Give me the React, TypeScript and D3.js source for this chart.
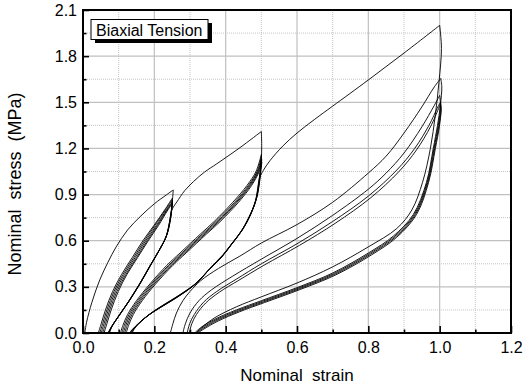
import React, { useEffect, useRef } from "react";
import * as d3 from "d3";

type Pt = [number, number];

// axis ticks
const xTicks = [0, 0.2, 0.4, 0.6, 0.8, 1.0, 1.2];
const xMinor = [0.1, 0.3, 0.5, 0.7, 0.9, 1.1];
const yTicks = [0, 0.3, 0.6, 0.9, 1.2, 1.5, 1.8, 2.1];
const yMinor = [0.15, 0.45, 0.75, 1.05, 1.35, 1.65, 1.95];

// cycle to 0.25 strain
const g1Virgin: Pt[] = [[0.005, 0], [0.01, 0.07], [0.025, 0.2], [0.047, 0.345], [0.07, 0.46], [0.093, 0.56], [0.125, 0.67], [0.16, 0.756], [0.2, 0.84], [0.235, 0.9], [0.253, 0.93]];
const g1Reload: Pt[][] = [
  [[0.043, 0], [0.051, 0.06], [0.063, 0.15], [0.083, 0.27], [0.108, 0.38], [0.138, 0.49], [0.168, 0.6], [0.199, 0.7], [0.229, 0.8], [0.25, 0.875]],
  [[0.047, 0], [0.055, 0.06], [0.067, 0.15], [0.087, 0.27], [0.112, 0.38], [0.142, 0.49], [0.172, 0.6], [0.202, 0.7], [0.231, 0.8], [0.25, 0.865]],
  [[0.051, 0], [0.059, 0.06], [0.071, 0.15], [0.091, 0.27], [0.116, 0.38], [0.146, 0.49], [0.176, 0.6], [0.206, 0.7], [0.234, 0.8], [0.251, 0.855]],
  [[0.055, 0], [0.063, 0.06], [0.075, 0.15], [0.095, 0.27], [0.12, 0.38], [0.15, 0.49], [0.18, 0.6], [0.209, 0.7], [0.236, 0.8], [0.251, 0.85]],
  [[0.059, 0], [0.067, 0.06], [0.079, 0.15], [0.099, 0.27], [0.123, 0.38], [0.153, 0.49], [0.183, 0.6], [0.212, 0.7], [0.238, 0.8], [0.252, 0.845]],
];
const g1Unload: Pt[][] = [
  [[0.253, 0.93], [0.251, 0.87], [0.248, 0.79], [0.241, 0.7], [0.232, 0.62], [0.212, 0.53], [0.187, 0.43], [0.16, 0.32], [0.131, 0.215], [0.1, 0.11], [0.08, 0.04], [0.072, 0]],
  [[0.25, 0.875], [0.249, 0.8], [0.243, 0.71], [0.234, 0.63], [0.214, 0.54], [0.189, 0.44], [0.162, 0.33], [0.133, 0.22], [0.102, 0.115], [0.082, 0.045], [0.074, 0]],
  [[0.25, 0.865], [0.248, 0.79], [0.242, 0.7], [0.233, 0.625], [0.213, 0.535], [0.188, 0.435], [0.161, 0.325], [0.132, 0.217], [0.101, 0.112], [0.081, 0.042], [0.073, 0]],
  [[0.251, 0.855], [0.247, 0.78], [0.241, 0.695], [0.232, 0.62], [0.211, 0.528], [0.186, 0.43], [0.159, 0.32], [0.13, 0.213], [0.1, 0.11], [0.08, 0.04], [0.071, 0]],
  [[0.251, 0.85], [0.246, 0.775], [0.24, 0.69], [0.231, 0.615], [0.21, 0.524], [0.185, 0.426], [0.158, 0.317], [0.129, 0.21], [0.099, 0.108], [0.079, 0.038], [0.07, 0]],
];

// cycle to 0.5 strain
const g2Virgin: Pt[] = [[0.249, 0.8], [0.255, 0.825], [0.263, 0.852], [0.285, 0.925], [0.31, 0.985], [0.34, 1.045], [0.375, 1.1], [0.44, 1.205], [0.5, 1.31]];
const g2Reload: Pt[][] = [
  [[0.105, 0], [0.112, 0.05], [0.125, 0.12], [0.15, 0.21], [0.188, 0.32], [0.235, 0.44], [0.272, 0.52], [0.33, 0.645], [0.37, 0.73], [0.42, 0.85], [0.46, 0.96], [0.485, 1.05], [0.5, 1.16]],
  [[0.109, 0], [0.116, 0.05], [0.129, 0.12], [0.154, 0.21], [0.192, 0.32], [0.24, 0.44], [0.277, 0.52], [0.335, 0.645], [0.375, 0.73], [0.425, 0.85], [0.464, 0.96], [0.488, 1.05], [0.5, 1.14]],
  [[0.113, 0], [0.12, 0.05], [0.133, 0.12], [0.158, 0.21], [0.196, 0.32], [0.244, 0.44], [0.281, 0.52], [0.339, 0.645], [0.379, 0.73], [0.429, 0.85], [0.467, 0.96], [0.49, 1.05], [0.501, 1.13]],
  [[0.117, 0], [0.124, 0.05], [0.137, 0.12], [0.162, 0.21], [0.2, 0.32], [0.248, 0.44], [0.285, 0.52], [0.343, 0.645], [0.383, 0.73], [0.432, 0.85], [0.47, 0.96], [0.492, 1.05], [0.501, 1.12]],
  [[0.121, 0], [0.128, 0.05], [0.141, 0.12], [0.166, 0.21], [0.204, 0.32], [0.252, 0.44], [0.289, 0.52], [0.347, 0.645], [0.387, 0.73], [0.436, 0.85], [0.473, 0.96], [0.494, 1.05], [0.502, 1.11]],
];
const g2Unload: Pt[][] = [
  [[0.5, 1.31], [0.501, 1.22], [0.5, 1.12], [0.496, 1.0], [0.487, 0.88], [0.47, 0.77], [0.449, 0.68], [0.42, 0.59], [0.393, 0.51], [0.355, 0.42], [0.32, 0.33], [0.272, 0.25], [0.22, 0.175], [0.188, 0.125], [0.16, 0.07], [0.142, 0.02], [0.138, 0]],
  [[0.5, 1.16], [0.499, 1.08], [0.495, 0.99], [0.486, 0.87], [0.468, 0.76], [0.447, 0.67], [0.418, 0.58], [0.391, 0.5], [0.353, 0.41], [0.318, 0.325], [0.27, 0.245], [0.218, 0.17], [0.186, 0.12], [0.158, 0.065], [0.14, 0.018], [0.136, 0]],
  [[0.5, 1.14], [0.498, 1.07], [0.494, 0.985], [0.485, 0.865], [0.466, 0.755], [0.445, 0.665], [0.416, 0.575], [0.389, 0.495], [0.351, 0.405], [0.316, 0.32], [0.268, 0.24], [0.216, 0.166], [0.184, 0.117], [0.156, 0.062], [0.138, 0.016], [0.134, 0]],
  [[0.501, 1.13], [0.498, 1.06], [0.493, 0.98], [0.484, 0.86], [0.465, 0.75], [0.443, 0.66], [0.414, 0.57], [0.387, 0.49], [0.349, 0.4], [0.314, 0.316], [0.266, 0.236], [0.214, 0.162], [0.182, 0.113], [0.154, 0.058], [0.136, 0.014], [0.132, 0]],
  [[0.501, 1.12], [0.497, 1.05], [0.492, 0.975], [0.483, 0.855], [0.464, 0.745], [0.442, 0.655], [0.412, 0.565], [0.385, 0.485], [0.347, 0.395], [0.312, 0.312], [0.264, 0.232], [0.212, 0.158], [0.18, 0.11], [0.152, 0.055], [0.134, 0.012], [0.13, 0]],
];

// cycle to 1.0 strain
const g3Virgin: Pt[] = [[0.495, 1.01], [0.505, 1.055], [0.524, 1.12], [0.56, 1.215], [0.6, 1.3], [0.65, 1.39], [0.7, 1.475], [0.8, 1.645], [0.9, 1.82], [1.0, 2.0]];
const g3Reload: Pt[][] = [
  [[0.245, 0], [0.252, 0.06], [0.262, 0.13], [0.28, 0.21], [0.3, 0.27], [0.33, 0.34], [0.38, 0.42], [0.44, 0.5], [0.5, 0.585], [0.6, 0.705], [0.7, 0.85], [0.8, 1.04], [0.85, 1.15], [0.9, 1.3], [0.95, 1.47], [0.985, 1.6], [1.003, 1.655]],
  [[0.28, 0], [0.287, 0.06], [0.3, 0.13], [0.325, 0.21], [0.36, 0.28], [0.42, 0.37], [0.5, 0.48], [0.6, 0.615], [0.7, 0.765], [0.8, 0.935], [0.85, 1.04], [0.9, 1.17], [0.95, 1.34], [0.985, 1.48], [1.0, 1.545]],
  [[0.292, 0], [0.299, 0.06], [0.312, 0.12], [0.338, 0.2], [0.375, 0.27], [0.43, 0.35], [0.5, 0.45], [0.6, 0.58], [0.7, 0.725], [0.8, 0.89], [0.88, 1.06], [0.93, 1.2], [0.97, 1.35], [0.995, 1.47], [1.002, 1.5]],
  [[0.298, 0], [0.305, 0.06], [0.318, 0.12], [0.344, 0.195], [0.382, 0.265], [0.437, 0.343], [0.507, 0.44], [0.607, 0.57], [0.707, 0.713], [0.807, 0.88], [0.886, 1.05], [0.935, 1.19], [0.974, 1.34], [0.997, 1.46], [1.002, 1.49]],
];
const g3Unload: Pt[][] = [
  [[1.0, 2.0], [1.005, 1.85], [0.998, 1.63], [0.988, 1.42], [0.974, 1.2], [0.952, 0.98], [0.922, 0.8], [0.88, 0.68], [0.8, 0.56], [0.7, 0.43], [0.6, 0.325], [0.5, 0.235], [0.43, 0.17], [0.37, 0.1], [0.335, 0.04], [0.318, 0]],
  [[1.003, 1.655], [1.006, 1.6], [1.002, 1.48], [0.994, 1.35], [0.982, 1.2], [0.963, 0.98], [0.926, 0.77], [0.87, 0.63], [0.8, 0.52], [0.7, 0.39], [0.6, 0.295], [0.5, 0.21], [0.43, 0.15], [0.37, 0.09], [0.33, 0.035], [0.313, 0]],
  [[1.0, 1.545], [1.003, 1.48], [0.996, 1.35], [0.984, 1.2], [0.965, 0.98], [0.929, 0.77], [0.873, 0.627], [0.803, 0.516], [0.703, 0.386], [0.603, 0.291], [0.503, 0.206], [0.433, 0.146], [0.373, 0.086], [0.333, 0.032], [0.316, 0]],
  [[1.002, 1.5], [1.004, 1.46], [0.998, 1.35], [0.986, 1.2], [0.967, 0.98], [0.932, 0.77], [0.876, 0.624], [0.806, 0.512], [0.706, 0.382], [0.606, 0.287], [0.506, 0.202], [0.436, 0.142], [0.376, 0.082], [0.336, 0.029], [0.319, 0]],
  [[1.002, 1.49], [1.004, 1.45], [0.999, 1.34], [0.988, 1.2], [0.969, 0.98], [0.935, 0.77], [0.879, 0.621], [0.809, 0.508], [0.709, 0.378], [0.609, 0.283], [0.509, 0.198], [0.439, 0.138], [0.379, 0.078], [0.339, 0.026], [0.322, 0]],
];

const allCurves: Pt[][] = [
  g1Virgin, ...g1Reload, ...g1Unload,
  g2Virgin, ...g2Reload, ...g2Unload,
  g3Virgin, ...g3Reload, ...g3Unload,
];

const font = "'Liberation Sans', Arial, sans-serif";

const App: React.FC = () => {
  const svgRef = useRef<SVGSVGElement | null>(null);

  useEffect(() => {
    if (svgRef.current) drawChart(svgRef.current);
  }, []);

  const drawChart = (el: SVGSVGElement) => {
    const width = 523;
    const height = 387;
    const left = 83, right = 511, top = 10, bottom = 333;

    d3.select(el).selectAll("*").remove();
    const svg = d3.select(el).attr("width", width).attr("height", height);

    const x = d3.scaleLinear().domain([0, 1.2]).range([left, right]);
    const y = d3.scaleLinear().domain([0, 2.1]).range([bottom, top]);

    // grid
    const grid = svg.append("g");
    grid.selectAll(".vmin").data(xMinor).enter().append("line")
      .attr("x1", (d) => x(d)).attr("x2", (d) => x(d)).attr("y1", top).attr("y2", bottom)
      .attr("stroke", "#c4c4c4").attr("stroke-width", 1).attr("stroke-dasharray", "1,1");
    grid.selectAll(".hmin").data(yMinor).enter().append("line")
      .attr("x1", left).attr("x2", right).attr("y1", (d) => y(d)).attr("y2", (d) => y(d))
      .attr("stroke", "#c4c4c4").attr("stroke-width", 1).attr("stroke-dasharray", "1,1");
    grid.selectAll(".vmaj").data(xTicks).enter().append("line")
      .attr("x1", (d) => x(d)).attr("x2", (d) => x(d)).attr("y1", top).attr("y2", bottom)
      .attr("stroke", "#c0c0c0").attr("stroke-width", 1.2);
    grid.selectAll(".hmaj").data(yTicks).enter().append("line")
      .attr("x1", left).attr("x2", right).attr("y1", (d) => y(d)).attr("y2", (d) => y(d))
      .attr("stroke", "#c0c0c0").attr("stroke-width", 1.2);

    // curves
    svg.append("clipPath").attr("id", "plotclip").append("rect")
      .attr("x", left).attr("y", top).attr("width", right - left).attr("height", bottom - top);
    const line = d3.line<Pt>()
      .x((d) => x(d[0]))
      .y((d) => y(d[1]))
      .curve(d3.curveCatmullRom.alpha(0.5));
    svg.append("g").attr("clip-path", "url(#plotclip)")
      .selectAll("path").data(allCurves).enter().append("path")
      .attr("d", (d) => line(d) as string)
      .attr("fill", "none").attr("stroke", "#000").attr("stroke-width", 0.9);

    // axes
    const xAxis = svg.append("g").attr("transform", `translate(0,${bottom})`)
      .call(d3.axisBottom(x).tickValues(xTicks).tickFormat(d3.format(".1f")).tickSize(-7).tickPadding(9));
    svg.append("g").attr("transform", `translate(0,${bottom})`)
      .call(d3.axisBottom(x).tickValues(xMinor).tickFormat(() => "").tickSize(-3.5));
    const yAxis = svg.append("g").attr("transform", `translate(${left},0)`)
      .call(d3.axisLeft(y).tickValues(yTicks).tickFormat(d3.format(".1f")).tickSize(-6).tickPadding(6));
    svg.append("g").attr("transform", `translate(${left},0)`)
      .call(d3.axisLeft(y).tickValues(yMinor).tickFormat(() => "").tickSize(-3.5));
    svg.selectAll(".domain").remove();
    svg.selectAll(".tick line").attr("stroke", "#000").attr("stroke-width", 1.6);
    [xAxis, yAxis].forEach((a) =>
      a.selectAll("text").style("font-family", font).style("font-size", "16px").attr("fill", "#000")
    );

    // frame
    svg.append("rect").attr("x", left).attr("y", top).attr("width", right - left).attr("height", bottom - top)
      .attr("fill", "none").attr("stroke", "#000").attr("stroke-width", 2);

    // legend box
    svg.append("rect").attr("x", 95).attr("y", 23).attr("width", 117).attr("height", 20).attr("fill", "#000");
    svg.append("rect").attr("x", 91).attr("y", 19.5).attr("width", 117).attr("height", 20)
      .attr("fill", "#fff").attr("stroke", "#000").attr("stroke-width", 1);
    svg.append("text").attr("x", 96).attr("y", 36).text("Biaxial Tension")
      .style("font-family", font).style("font-size", "16px").attr("fill", "#000");

    // titles
    svg.append("text").attr("x", (left + right) / 2).attr("y", 381).attr("text-anchor", "middle")
      .style("font-family", font).style("font-size", "17px").style("white-space", "pre")
      .text("Nominal  strain");
    svg.append("text").attr("transform", `translate(21,184) rotate(-90)`).attr("text-anchor", "middle")
      .style("font-family", font).style("font-size", "18px").style("white-space", "pre")
      .text("Nominal  stress  (MPa)");
  };

  return (
    <div style={{ position: "absolute", left: 0, top: 0 }}>
      <svg ref={svgRef}></svg>
    </div>
  );
};

export default App;
